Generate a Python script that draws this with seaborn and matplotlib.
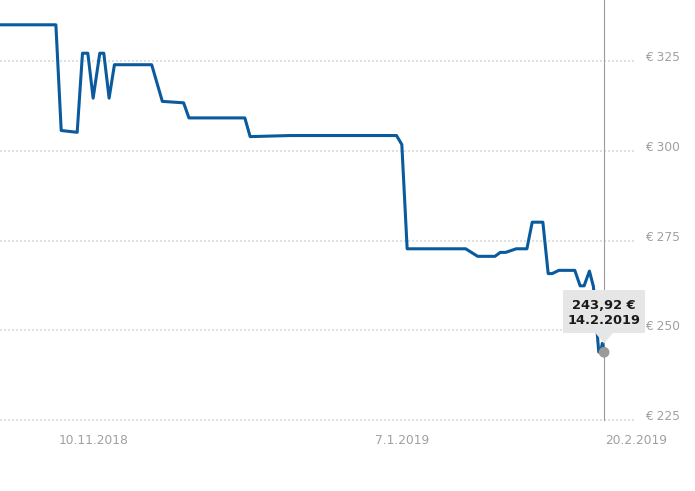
import matplotlib
matplotlib.use("Agg")
import matplotlib.pyplot as plt
import matplotlib.dates as mdates
import matplotlib.transforms as mtransforms
from matplotlib.patches import FancyBboxPatch, Polygon
import seaborn as sns
import pandas as pd

# ---------------- data ----------------
dates = [
    "2018-10-20 00:00", "2018-11-03 00:00", "2018-11-04 00:00", "2018-11-07 00:00", "2018-11-08 00:00",
    "2018-11-09 00:00", "2018-11-10 00:00", "2018-11-11 06:00", "2018-11-12 00:00", "2018-11-13 00:00",
    "2018-11-14 00:00", "2018-11-21 00:00", "2018-11-23 00:00", "2018-11-27 00:00", "2018-11-28 00:00",
    "2018-12-08 12:00", "2018-12-09 12:00", "2018-12-17 00:00", "2019-01-06 00:00", "2019-01-07 00:00",
    "2019-01-08 00:00", "2019-01-19 00:00", "2019-01-21 06:00", "2019-01-24 12:00", "2019-01-25 12:00",
    "2019-01-26 12:00", "2019-01-28 12:00", "2019-01-30 12:00", "2019-01-31 12:00", "2019-02-02 12:00",
    "2019-02-03 12:00", "2019-02-04 06:00", "2019-02-05 12:00", "2019-02-08 12:00", "2019-02-09 12:00",
    "2019-02-10 06:00", "2019-02-11 06:00", "2019-02-12 00:00", "2019-02-13 00:00", "2019-02-13 09:00",
    "2019-02-13 16:00", "2019-02-14 00:00",
]
prices = [
    335.0, 335.0, 305.6, 305.1, 327.1,
    327.1, 314.6, 327.1, 327.1, 314.6,
    323.9, 323.9, 313.7, 313.3, 309.1,
    309.1, 303.9, 304.2, 304.2, 301.7,
    272.7, 272.7, 270.6, 270.6, 271.7,
    271.7, 272.7, 272.7, 280.1, 280.1,
    265.8, 265.8, 266.7, 266.7, 262.4,
    262.4, 266.5, 262.2, 244.0, 243.9,
    246.4, 243.92,
]
y_ticks = [225, 250, 275, 300, 325]
x_tick_dates = ["2018-11-10", "2019-01-07", "2019-02-20"]
x_range = ["2018-10-23 12:00", "2019-02-20 00:00"]
y_range = [224.8, 341.9]
tooltip_date = "2019-02-14"
tooltip_price = 243.92

# ---------------- style ----------------
line_color = "#0a5a9e"
tick_color = "#a0a0a0"
grid_color = "#e0e0e0"

sns.set_style("white")
plt.rcParams["font.family"] = ["DejaVu Sans"]

W, H = 695, 491
fig = plt.figure(figsize=(W / 100, H / 100), dpi=100)
ax_left, ax_right, ax_top, ax_bottom = 0, 636, 0, 421
ax = fig.add_axes([ax_left / W, (H - ax_bottom) / H, (ax_right - ax_left) / W, (ax_bottom - ax_top) / H])

df = pd.DataFrame({"date": pd.to_datetime(dates, format="%Y-%m-%d %H:%M"), "price": prices})
sns.lineplot(data=df, x="date", y="price", ax=ax, color=line_color, linewidth=2.2, zorder=3)

ax.set_xlim(pd.Timestamp(x_range[0]), pd.Timestamp(x_range[1]))
ax.set_ylim(*y_range)

for s in ax.spines.values():
    s.set_visible(False)

# y axis on the right
ax.yaxis.tick_right()
ax.set_yticks(y_ticks)
ax.set_yticklabels([f"€ {v}" for v in y_ticks])
ax.tick_params(axis="y", length=0, pad=6.5, labelsize=8.8, labelcolor=tick_color)
offset_up = mtransforms.ScaledTranslation(0, 0.05, fig.dpi_scale_trans)
for lab in ax.get_yticklabels():
    lab.set_transform(lab.get_transform() + offset_up)

# x axis
xt = pd.to_datetime(x_tick_dates)
ax.set_xticks(xt)
ax.set_xticklabels([f"{d.day}.{d.month}.{d.year}" for d in xt])
ax.tick_params(axis="x", length=0, pad=9, labelsize=8.8, labelcolor=tick_color)

ax.set_xlabel("")
ax.set_ylabel("")

# dotted horizontal grid
ax.grid(False)
for v in y_ticks:
    ax.axhline(v, color=grid_color, linewidth=1.44, linestyle=(0, (1, 1)), zorder=1, clip_on=False)

# crosshair + point marker
td = pd.Timestamp(tooltip_date)
ax.axvline(td, color="#9a9a9a", linewidth=0.8, zorder=2)
ax.scatter([td], [tooltip_price], s=60, color="#9a9a9a", zorder=4, edgecolor="none")

# tooltip
px, py = ax.transData.transform((mdates.date2num(td), tooltip_price))
ident = mtransforms.IdentityTransform()
bw, bh = 82, 43
bx0 = px - bw / 2
by0 = py + 19
box = FancyBboxPatch((bx0, by0), bw, bh, boxstyle="square,pad=0", transform=ident,
                     facecolor="#e6e6e6", edgecolor="none", zorder=10)
fig.patches.append(box)
box.set_figure(fig)
tri = Polygon([(px - 9, by0 + 0.5), (px + 9, by0 + 0.5), (px, by0 - 10)], closed=True,
              transform=ident, facecolor="#e6e6e6", edgecolor="none", zorder=10)
fig.patches.append(tri)
tri.set_figure(fig)
price_txt = f"{tooltip_price:.2f}".replace(".", ",") + " €"
date_txt = f"{td.day}.{td.month}.{td.year}"
fig.text(px, py + 47, price_txt, transform=ident, ha="center", va="center",
         fontsize=9.4, fontweight="bold", color="#1a1a1a", zorder=11)
fig.text(px, py + 31.3, date_txt, transform=ident, ha="center", va="center",
         fontsize=9.4, fontweight="bold", color="#1a1a1a", zorder=11)

fig.savefig("out.png", dpi=100)
